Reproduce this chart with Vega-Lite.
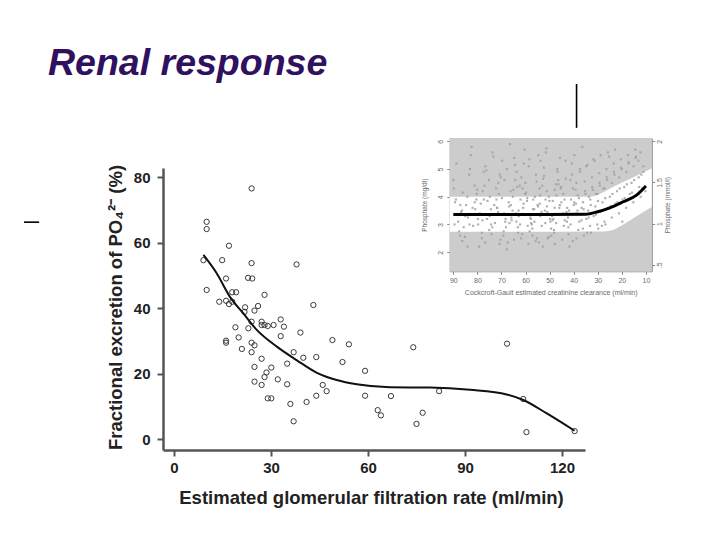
{
  "$schema": "https://vega.github.io/schema/vega-lite/v6.json",
  "width": 422,
  "height": 282,
  "autosize": {"type": "none"},
  "padding": {"left": 163, "top": 168, "right": 135, "bottom": 90},
  "background": "white",
  "title": {
    "text": "Renal response",
    "anchor": "start",
    "frame": "group",
    "dx": -115,
    "offset": -29,
    "baseline": "alphabetic",
    "font": "Liberation Sans",
    "fontSize": 37.5,
    "fontWeight": "bold",
    "fontStyle": "italic",
    "color": "#2f1160"
  },
  "config": {
    "font": "Liberation Sans",
    "view": {"stroke": null},
    "axis": {"grid": false}
  },
  "datasets": {
    "kidney": [
      {"egfr": 9.1, "fe": 54.7}, {"egfr": 10.1, "fe": 66.4}, {"egfr": 10.1, "fe": 64.2}, {"egfr": 10.1, "fe": 45.6},
      {"egfr": 14.0, "fe": 42.0}, {"egfr": 14.9, "fe": 54.7}, {"egfr": 16.1, "fe": 49.1}, {"egfr": 16.1, "fe": 42.3},
      {"egfr": 17.0, "fe": 41.3}, {"egfr": 18.0, "fe": 42.0}, {"egfr": 17.0, "fe": 59.1}, {"egfr": 18.0, "fe": 44.9},
      {"egfr": 19.2, "fe": 44.9}, {"egfr": 16.1, "fe": 30.1}, {"egfr": 16.1, "fe": 29.5}, {"egfr": 19.0, "fe": 34.2},
      {"egfr": 20.0, "fe": 31.1}, {"egfr": 21.0, "fe": 27.6}, {"egfr": 22.0, "fe": 40.3}, {"egfr": 21.8, "fe": 38.9},
      {"egfr": 22.9, "fe": 49.3}, {"egfr": 24.2, "fe": 49.1}, {"egfr": 24.0, "fe": 53.8}, {"egfr": 24.0, "fe": 76.6},
      {"egfr": 23.0, "fe": 33.9}, {"egfr": 24.0, "fe": 35.9}, {"egfr": 24.9, "fe": 39.3}, {"egfr": 26.0, "fe": 40.7},
      {"egfr": 28.0, "fe": 44.1}, {"egfr": 24.0, "fe": 29.5}, {"egfr": 24.9, "fe": 28.7}, {"egfr": 24.0, "fe": 26.6},
      {"egfr": 24.9, "fe": 22.1}, {"egfr": 24.9, "fe": 17.6}, {"egfr": 27.1, "fe": 35.9}, {"egfr": 28.0, "fe": 34.9},
      {"egfr": 29.0, "fe": 34.6}, {"egfr": 27.1, "fe": 34.9}, {"egfr": 30.8, "fe": 34.9}, {"egfr": 33.0, "fe": 36.6},
      {"egfr": 34.0, "fe": 34.4}, {"egfr": 33.0, "fe": 31.5}, {"egfr": 27.1, "fe": 24.6}, {"egfr": 30.1, "fe": 21.9},
      {"egfr": 28.6, "fe": 20.4}, {"egfr": 28.0, "fe": 19.0}, {"egfr": 27.1, "fe": 16.6}, {"egfr": 32.1, "fe": 18.3},
      {"egfr": 35.0, "fe": 16.8}, {"egfr": 35.0, "fe": 23.1}, {"egfr": 29.0, "fe": 12.5}, {"egfr": 30.1, "fe": 12.5},
      {"egfr": 36.0, "fe": 10.8}, {"egfr": 37.0, "fe": 5.5}, {"egfr": 37.0, "fe": 26.6}, {"egfr": 37.9, "fe": 53.4},
      {"egfr": 39.1, "fe": 32.6}, {"egfr": 40.0, "fe": 24.9}, {"egfr": 41.0, "fe": 11.4}, {"egfr": 43.1, "fe": 41.0},
      {"egfr": 44.0, "fe": 25.1}, {"egfr": 44.0, "fe": 13.3}, {"egfr": 46.0, "fe": 16.6}, {"egfr": 47.2, "fe": 14.7},
      {"egfr": 49.0, "fe": 30.3}, {"egfr": 52.1, "fe": 23.6}, {"egfr": 54.1, "fe": 29.0}, {"egfr": 59.1, "fe": 20.9},
      {"egfr": 59.1, "fe": 13.3}, {"egfr": 63.0, "fe": 8.9}, {"egfr": 64.0, "fe": 7.3}, {"egfr": 67.1, "fe": 13.2},
      {"egfr": 74.0, "fe": 28.1}, {"egfr": 75.0, "fe": 4.7}, {"egfr": 76.9, "fe": 8.1}, {"egfr": 82.0, "fe": 14.7},
      {"egfr": 103.0, "fe": 29.2}, {"egfr": 108.0, "fe": 12.3}, {"egfr": 109.0, "fe": 2.2}, {"egfr": 123.9, "fe": 2.5}
    ],
    "kidneyFit": [
      {"egfr": 9.1, "fe": 56.3}, {"egfr": 13.2, "fe": 50.7}, {"egfr": 17.3, "fe": 43.5}, {"egfr": 21.4, "fe": 38.5},
      {"egfr": 25.6, "fe": 33.4}, {"egfr": 31.8, "fe": 28.3}, {"egfr": 37.9, "fe": 24.2}, {"egfr": 44.2, "fe": 20.3},
      {"egfr": 50.3, "fe": 18.1}, {"egfr": 56.5, "fe": 16.8}, {"egfr": 66.8, "fe": 15.9}, {"egfr": 79.2, "fe": 15.8},
      {"egfr": 91.6, "fe": 15.1}, {"egfr": 102.9, "fe": 13.7}, {"egfr": 108.0, "fe": 12.0}, {"egfr": 115.3, "fe": 7.9},
      {"egfr": 123.9, "fe": 2.6}
    ],
    "accents": [
      {"a1": 124.5, "a2": 124.5, "b1": 95.1, "b2": 108.5},
      {"a1": -46.4, "a2": -41.7, "b1": 66.3, "b2": 66.3}
    ],
    "insetFrame": [{"c1": 91.5, "c2": 7.6, "p1": 1.31, "p2": 6.12}],
    "insetBand": [
      {"c": 91.5, "lo": 2.74, "hi": 4.0}, {"c": 60, "lo": 2.74, "hi": 4.0}, {"c": 33, "lo": 2.75, "hi": 4.0},
      {"c": 28, "lo": 2.75, "hi": 4.15}, {"c": 25, "lo": 2.77, "hi": 4.29}, {"c": 19.4, "lo": 3.0, "hi": 4.53},
      {"c": 13.9, "lo": 3.3, "hi": 4.76}, {"c": 7.6, "lo": 3.63, "hi": 5.02}
    ],
    "insetTrend": [
      {"c": 90, "p": 3.36}, {"c": 60, "p": 3.36}, {"c": 35, "p": 3.37}, {"c": 30, "p": 3.46},
      {"c": 25, "p": 3.6}, {"c": 19.4, "p": 3.82}, {"c": 13.9, "p": 4.06}, {"c": 10, "p": 4.39}
    ],
    "insetCloud": [
      {"c":88,"p":3.1},{"c":89.3,"p":3.8},{"c":87.2,"p":2.6},{"c":89.8,"p":4.3},{"c":86.4,"p":3.5},{"c":88.7,"p":5.2},
      {"c":85,"p":3.3},{"c":86.3,"p":2.4},{"c":84.2,"p":4.0},{"c":87.1,"p":3.7},{"c":83.4,"p":4.8},{"c":85.7,"p":2.9},
      {"c":82,"p":3.6},{"c":83.3,"p":3.0},{"c":81.2,"p":4.4},{"c":84.1,"p":2.2},{"c":80.4,"p":3.9},{"c":82.7,"p":5.5},{"c":79.8,"p":3.2},
      {"c":79,"p":3.4},{"c":80.3,"p":4.1},{"c":78.2,"p":2.7},{"c":81.1,"p":3.8},{"c":77.4,"p":4.9},{"c":79.7,"p":3.0},{"c":76.8,"p":2.35},
      {"c":76,"p":3.2},{"c":77.3,"p":3.9},{"c":75.2,"p":4.6},{"c":78.1,"p":2.5},{"c":74.4,"p":3.55},{"c":76.7,"p":5.1},{"c":73.8,"p":2.9},{"c":77.8,"p":4.2},
      {"c":73,"p":3.7},{"c":74.3,"p":3.0},{"c":72.2,"p":4.3},{"c":75.1,"p":2.8},{"c":71.4,"p":3.45},{"c":73.7,"p":5.6},{"c":70.8,"p":2.3},{"c":74.8,"p":4.0},
      {"c":70,"p":3.35},{"c":71.3,"p":4.5},{"c":69.2,"p":2.6},{"c":72.1,"p":3.9},{"c":68.4,"p":3.1},{"c":70.7,"p":4.8},{"c":67.8,"p":2.1},{"c":71.8,"p":3.6},{"c":69.7,"p":5.3},
      {"c":67,"p":3.8},{"c":68.3,"p":3.2},{"c":66.2,"p":4.2},{"c":69.1,"p":2.75},{"c":65.4,"p":3.5},{"c":67.7,"p":5.0},{"c":64.8,"p":2.45},{"c":68.8,"p":4.6},{"c":66.7,"p":3.05},
      {"c":64,"p":3.4},{"c":65.3,"p":4.0},{"c":63.2,"p":2.9},{"c":66.1,"p":3.7},{"c":62.4,"p":4.4},{"c":64.7,"p":5.4},{"c":61.8,"p":2.5},{"c":65.8,"p":3.15},{"c":63.7,"p":4.9},{"c":66.4,"p":5.9},
      {"c":61,"p":3.6},{"c":62.3,"p":3.0},{"c":60.2,"p":4.1},{"c":63.1,"p":2.7},{"c":59.4,"p":3.85},{"c":61.7,"p":4.7},{"c":58.8,"p":2.3},{"c":62.8,"p":3.3},{"c":60.7,"p":5.2},{"c":63.4,"p":4.35},
      {"c":58,"p":3.25},{"c":59.3,"p":3.95},{"c":57.2,"p":2.85},{"c":60.1,"p":4.5},{"c":56.4,"p":3.55},{"c":58.7,"p":5.1},{"c":55.8,"p":2.4},{"c":59.8,"p":4.15},{"c":57.7,"p":3.05},{"c":60.4,"p":5.7},
      {"c":55,"p":3.7},{"c":56.3,"p":3.1},{"c":54.2,"p":4.3},{"c":57.1,"p":2.6},{"c":53.4,"p":3.45},{"c":55.7,"p":4.8},{"c":52.8,"p":2.2},{"c":56.8,"p":3.9},{"c":54.7,"p":5.5},{"c":57.4,"p":3.0},{"c":53.9,"p":4.05},
      {"c":52,"p":3.5},{"c":53.3,"p":2.95},{"c":51.2,"p":4.2},{"c":54.1,"p":3.75},{"c":50.4,"p":2.55},{"c":52.7,"p":4.65},{"c":49.8,"p":3.2},{"c":53.8,"p":5.3},{"c":51.7,"p":3.9},{"c":54.4,"p":2.35},
      {"c":49,"p":3.3},{"c":50.3,"p":4.0},{"c":48.2,"p":2.8},{"c":51.1,"p":3.65},{"c":47.4,"p":4.45},{"c":49.7,"p":3.1},{"c":46.8,"p":5.0},{"c":50.8,"p":2.5},{"c":48.7,"p":3.85},{"c":51.4,"p":5.75},{"c":47.9,"p":4.25},
      {"c":46,"p":3.6},{"c":47.3,"p":3.05},{"c":45.2,"p":4.35},{"c":48.1,"p":2.7},{"c":44.4,"p":3.4},{"c":46.7,"p":4.9},{"c":43.8,"p":3.9},{"c":47.8,"p":2.3},{"c":45.7,"p":5.4},{"c":48.4,"p":3.2},
      {"c":43,"p":3.45},{"c":44.3,"p":4.1},{"c":42.2,"p":2.9},{"c":45.1,"p":3.8},{"c":41.4,"p":4.6},{"c":43.7,"p":3.15},{"c":40.8,"p":5.2},{"c":44.8,"p":2.45},{"c":42.7,"p":3.6},{"c":45.4,"p":4.3},
      {"c":40,"p":3.7},{"c":41.3,"p":3.0},{"c":39.2,"p":4.25},{"c":42.1,"p":2.65},{"c":38.4,"p":3.5},{"c":40.7,"p":4.8},{"c":37.8,"p":3.95},{"c":41.8,"p":2.2},{"c":39.7,"p":5.5},{"c":42.4,"p":3.25},{"c":38.9,"p":4.5},
      {"c":37,"p":3.35},{"c":38.3,"p":4.05},{"c":36.2,"p":2.85},{"c":39.1,"p":3.75},{"c":35.4,"p":4.55},{"c":37.7,"p":3.1},{"c":34.8,"p":5.1},{"c":38.8,"p":2.5},{"c":36.7,"p":3.6},
      {"c":34,"p":3.5},{"c":35.3,"p":4.2},{"c":33.2,"p":2.95},{"c":36.1,"p":3.8},{"c":32.4,"p":4.7},{"c":34.7,"p":3.2},{"c":31.8,"p":5.35},{"c":35.8,"p":2.6},{"c":33.7,"p":4.0},{"c":36.4,"p":5.8},
      {"c":31,"p":3.65},{"c":32.3,"p":4.35},{"c":30.2,"p":3.0},{"c":33.1,"p":3.9},{"c":29.4,"p":4.85},{"c":31.7,"p":3.3},{"c":28.8,"p":5.5},{"c":32.8,"p":2.7},{"c":30.7,"p":4.1},
      {"c":28,"p":3.8},{"c":29.3,"p":4.5},{"c":27.2,"p":3.1},{"c":30.1,"p":4.1},{"c":26.4,"p":5.0},{"c":28.7,"p":3.45},{"c":25.8,"p":5.6},{"c":29.8,"p":2.85},{"c":27.7,"p":4.3},
      {"c":25,"p":4.0},{"c":26.3,"p":4.7},{"c":24.2,"p":3.25},{"c":27.1,"p":4.3},{"c":23.4,"p":5.2},{"c":25.7,"p":3.6},{"c":22.8,"p":5.7},{"c":26.8,"p":3.0},
      {"c":22,"p":4.2},{"c":23.3,"p":4.9},{"c":21.2,"p":3.4},{"c":24.1,"p":4.5},{"c":20.4,"p":5.35},{"c":22.7,"p":3.75},{"c":19.8,"p":3.1},
      {"c":19,"p":4.35},{"c":20.3,"p":5.05},{"c":18.2,"p":3.6},{"c":21.1,"p":4.7},{"c":17.4,"p":5.5},{"c":19.7,"p":3.9},
      {"c":16,"p":4.5},{"c":17.3,"p":5.2},{"c":15.2,"p":3.8},{"c":18.1,"p":4.9},{"c":14.4,"p":5.7},{"c":16.7,"p":4.1},
      {"c":13,"p":4.7},{"c":14.3,"p":5.4},{"c":12.2,"p":4.0},{"c":15.1,"p":5.1},{"c":11.4,"p":4.3},
      {"c":11,"p":4.9},{"c":12.3,"p":5.6},{"c":10.2,"p":4.2},{"c":13.1,"p":5.3},
      {"c":89.5,"p":3.0},{"c":88.9,"p":3.9},{"c":90.0,"p":4.6},
      {"c":86.8,"p":3.45},{"c":87.6,"p":2.75},{"c":86.1,"p":4.15},
      {"c":83.9,"p":3.25},{"c":84.7,"p":3.7},{"c":83.1,"p":5.0},{"c":85.2,"p":2.55},
      {"c":80.9,"p":3.55},{"c":81.8,"p":2.95},{"c":80.1,"p":4.25},{"c":82.4,"p":5.8},
      {"c":77.9,"p":3.15},{"c":78.6,"p":3.75},{"c":77.1,"p":4.4},{"c":79.3,"p":2.2},
      {"c":74.9,"p":3.3},{"c":75.8,"p":3.85},{"c":74.1,"p":2.65},{"c":76.3,"p":4.95},
      {"c":71.9,"p":3.6},{"c":72.7,"p":3.05},{"c":71.1,"p":4.1},{"c":73.4,"p":5.45},{"c":70.4,"p":2.45},
      {"c":68.9,"p":3.4},{"c":69.8,"p":3.95},{"c":68.1,"p":2.9},{"c":70.3,"p":4.7},
      {"c":65.9,"p":3.25},{"c":66.8,"p":3.65},{"c":65.1,"p":4.25},{"c":67.4,"p":2.35},{"c":64.4,"p":5.15},
      {"c":62.9,"p":3.5},{"c":63.8,"p":3.1},{"c":62.1,"p":3.9},{"c":64.3,"p":4.6},{"c":61.4,"p":2.65},
      {"c":59.9,"p":3.35},{"c":60.8,"p":3.75},{"c":59.1,"p":2.95},{"c":61.3,"p":4.3},{"c":58.4,"p":5.35},
      {"c":56.9,"p":3.55},{"c":57.8,"p":3.2},{"c":56.1,"p":4.0},{"c":58.3,"p":2.75},{"c":55.4,"p":4.55},
      {"c":53.9,"p":3.3},{"c":54.8,"p":3.65},{"c":53.1,"p":4.4},{"c":55.3,"p":2.5},{"c":52.4,"p":5.05},
      {"c":50.9,"p":3.45},{"c":51.8,"p":3.05},{"c":50.1,"p":3.85},{"c":52.3,"p":4.75},{"c":49.4,"p":2.85},{"c":51.6,"p":5.6},
      {"c":47.9,"p":3.6},{"c":48.8,"p":3.15},{"c":47.1,"p":4.05},{"c":49.3,"p":2.6},{"c":46.4,"p":4.6},
      {"c":44.9,"p":3.35},{"c":45.8,"p":3.7},{"c":44.1,"p":2.95},{"c":46.3,"p":4.45},{"c":43.4,"p":5.3},
      {"c":41.9,"p":3.5},{"c":42.8,"p":3.1},{"c":41.1,"p":3.9},{"c":43.3,"p":4.65},{"c":40.4,"p":2.4},
      {"c":38.9,"p":3.4},{"c":39.8,"p":3.8},{"c":38.1,"p":2.8},{"c":40.3,"p":4.3},{"c":37.4,"p":5.0},
      {"c":35.9,"p":3.55},{"c":36.8,"p":3.15},{"c":35.1,"p":4.1},{"c":37.3,"p":4.9},{"c":34.4,"p":2.7},
      {"c":32.9,"p":3.7},{"c":33.8,"p":3.25},{"c":32.1,"p":4.25},{"c":34.3,"p":5.15},
      {"c":29.9,"p":3.85},{"c":30.8,"p":3.35},{"c":29.1,"p":4.4},{"c":31.3,"p":5.3},
      {"c":26.9,"p":3.95},{"c":27.8,"p":3.5},{"c":26.1,"p":4.6},{"c":28.3,"p":2.95},
      {"c":23.9,"p":4.1},{"c":24.8,"p":3.65},{"c":23.1,"p":4.8},{"c":25.3,"p":5.45},
      {"c":20.9,"p":4.3},{"c":21.8,"p":3.8},{"c":20.1,"p":5.0},
      {"c":17.9,"p":4.45},{"c":18.8,"p":3.95},{"c":17.1,"p":5.25},
      {"c":14.9,"p":4.6},{"c":15.8,"p":4.15},{"c":14.1,"p":5.45},
      {"c":11.9,"p":4.8},{"c":12.8,"p":4.35},{"c":11.1,"p":5.1}
    ],
    "mmolTicks": [{"mmol": 0.5}, {"mmol": 2}]
  },
  "layer": [
    {
      "layer": [
        {
          "data": {"name": "kidney"},
          "mark": {"type": "point", "shape": "circle", "filled": false, "stroke": "#3a3a3a", "strokeWidth": 1, "size": 28, "opacity": 1},
          "encoding": {
            "x": {
              "field": "egfr", "type": "quantitative",
              "scale": {"domain": [-3.4, 127.11], "nice": false, "zero": false},
              "axis": {
                "orient": "bottom",
                "values": [0, 30, 60, 90, 120],
                "labelFontSize": 15, "labelFontWeight": "bold", "labelColor": "#222",
                "labelBaseline": "alphabetic", "labelPadding": 16, "labelFlush": false,
                "tickSize": 6, "tickWidth": 2, "tickColor": "#555",
                "domainColor": "#555", "domainWidth": 2.5,
                "title": "Estimated glomerular filtration rate (ml/min)",
                "titleFontSize": 18.5, "titleFontWeight": "bold", "titleColor": "#222",
                "titleBaseline": "alphabetic", "titleY": 53, "titleX": 208
              }
            },
            "y": {
              "field": "fe", "type": "quantitative",
              "scale": {"domain": [-3.27, 82.84], "nice": false, "zero": false},
              "axis": {
                "orient": "left",
                "values": [0, 20, 40, 60, 80],
                "labelFontSize": 15, "labelFontWeight": "bold", "labelColor": "#222",
                "labelPadding": 7, "labelFlush": false,
                "tickSize": 6, "tickWidth": 2, "tickColor": "#555",
                "domainColor": "#555", "domainWidth": 2.5,
                "title": "Fractional excretion of PO₄²⁻ (%)",
                "titleFontSize": 18.5, "titleFontWeight": "bold", "titleColor": "#222",
                "titleAngle": 270, "titleAlign": "center", "titleBaseline": "alphabetic",
                "titleX": -41.3, "titleY": 139
              }
            }
          }
        },
        {
          "data": {"name": "kidneyFit"},
          "mark": {"type": "line", "color": "#111", "strokeWidth": 2, "interpolate": "monotone"},
          "encoding": {
            "x": {"field": "egfr", "type": "quantitative", "scale": {"domain": [-3.4, 127.11], "nice": false, "zero": false}},
            "y": {"field": "fe", "type": "quantitative", "scale": {"domain": [-3.27, 82.84], "nice": false, "zero": false}}
          }
        },
        {
          "data": {"name": "accents"},
          "mark": {"type": "rule", "color": "#000", "strokeWidth": 1.6},
          "encoding": {
            "x": {"field": "a1", "type": "quantitative", "scale": {"domain": [-3.4, 127.11], "nice": false, "zero": false}},
            "x2": {"field": "a2"},
            "y": {"field": "b1", "type": "quantitative", "scale": {"domain": [-3.27, 82.84], "nice": false, "zero": false}},
            "y2": {"field": "b2"}
          }
        }
      ]
    },
    {
      "layer": [
        {
          "layer": [
            {
              "data": {"name": "insetFrame"},
              "mark": {"type": "rect", "fill": "#cccccc"},
              "encoding": {
                "x": {
                  "field": "c1", "type": "quantitative",
                  "scale": {"domain": [7.6, 91.5], "reverse": true, "range": [286.7, 488.7], "nice": false, "zero": false},
                  "axis": {
                    "orient": "bottom", "offset": -178.7,
                    "values": [10, 20, 30, 40, 50, 60, 70, 80, 90],
                    "labelFontSize": 7, "labelColor": "#6a6a6a", "labelBaseline": "alphabetic",
                    "labelPadding": 8, "labelFlush": false, "labelOverlap": false,
                    "tickSize": 3, "tickColor": "#8a8a8a", "domainColor": "#9a9a9a", "domainWidth": 1,
                    "title": "Cockcroft-Gault estimated creatinine clearance (ml/min)",
                    "titleFontSize": 7, "titleFontWeight": "normal", "titleColor": "#6a6a6a",
                    "titleBaseline": "alphabetic", "titleY": 23
                  }
                },
                "x2": {"field": "c2"},
                "y": {
                  "field": "p1", "type": "quantitative",
                  "scale": {"domain": [1.31, 6.12], "range": [103.3, -30], "nice": false, "zero": false},
                  "axis": {
                    "orient": "left", "offset": -286.7,
                    "values": [2, 3, 4, 5, 6],
                    "format": "d",
                    "labelFontSize": 7, "labelColor": "#6a6a6a", "labelAngle": -90,
                    "labelAlign": "center", "labelBaseline": "bottom", "labelPadding": 3,
                    "labelFlush": false, "labelOverlap": false,
                    "tickSize": 3, "tickColor": "#8a8a8a", "domainColor": "#9a9a9a", "domainWidth": 1,
                    "title": "Phosphate (mg/dl)",
                    "titleFontSize": 6.5, "titleFontWeight": "normal", "titleColor": "#6a6a6a",
                    "titleAngle": 270, "titleAlign": "center", "titleBaseline": "alphabetic",
                    "titleX": -23.7, "titleY": 36.7
                  }
                },
                "y2": {"field": "p2"}
              }
            },
            {
              "data": {"name": "insetBand"},
              "mark": {"type": "area", "fill": "#ffffff", "interpolate": "monotone"},
              "encoding": {
                "x": {"field": "c", "type": "quantitative", "scale": {"domain": [7.6, 91.5], "reverse": true, "range": [286.7, 488.7], "nice": false, "zero": false}},
                "y": {"field": "lo", "type": "quantitative", "scale": {"domain": [1.31, 6.12], "range": [103.3, -30], "nice": false, "zero": false}},
                "y2": {"field": "hi"}
              }
            },
            {
              "data": {"name": "insetCloud"},
              "mark": {"type": "square", "size": 4.5, "color": "#a0a0a0", "opacity": 0.85},
              "encoding": {
                "x": {"field": "c", "type": "quantitative", "scale": {"domain": [7.6, 91.5], "reverse": true, "range": [286.7, 488.7], "nice": false, "zero": false}},
                "y": {"field": "p", "type": "quantitative", "scale": {"domain": [1.31, 6.12], "range": [103.3, -30], "nice": false, "zero": false}}
              }
            },
            {
              "data": {"name": "insetTrend"},
              "mark": {"type": "line", "color": "#000", "strokeWidth": 3, "interpolate": "monotone"},
              "encoding": {
                "x": {"field": "c", "type": "quantitative", "scale": {"domain": [7.6, 91.5], "reverse": true, "range": [286.7, 488.7], "nice": false, "zero": false}},
                "y": {"field": "p", "type": "quantitative", "scale": {"domain": [1.31, 6.12], "range": [103.3, -30], "nice": false, "zero": false}}
              }
            }
          ]
        },
        {
          "data": {"name": "mmolTicks"},
          "mark": {"type": "point", "opacity": 0},
          "encoding": {
            "y": {
              "field": "mmol", "type": "quantitative",
              "scale": {"domain": [0.42, 2.04], "range": [103.3, -30], "nice": false, "zero": false},
              "axis": {
                "orient": "right", "offset": 66.7,
                "values": [0.5, 1, 1.5, 2],
                "labelExpr": "datum.value == 0.5 ? '.5' : format(datum.value, '~g')",
                "labelFontSize": 7, "labelColor": "#6a6a6a", "labelAngle": -90,
                "labelAlign": "center", "labelBaseline": "top", "labelPadding": 1,
                "labelFlush": false, "labelOverlap": false,
                "tickSize": 3, "tickColor": "#8a8a8a", "domainColor": "#9a9a9a", "domainWidth": 1.5,
                "title": "Phosphate (mmol/l)",
                "titleFontSize": 6.5, "titleFontWeight": "normal", "titleColor": "#6a6a6a",
                "titleAngle": 270, "titleAlign": "center", "titleBaseline": "alphabetic",
                "titleX": 17.8, "titleY": 36.7
              }
            }
          }
        }
      ],
      "resolve": {"scale": {"y": "independent"}, "axis": {"y": "independent"}}
    }
  ],
  "resolve": {
    "scale": {"x": "independent", "y": "independent"},
    "axis": {"x": "independent", "y": "independent"}
  }
}
